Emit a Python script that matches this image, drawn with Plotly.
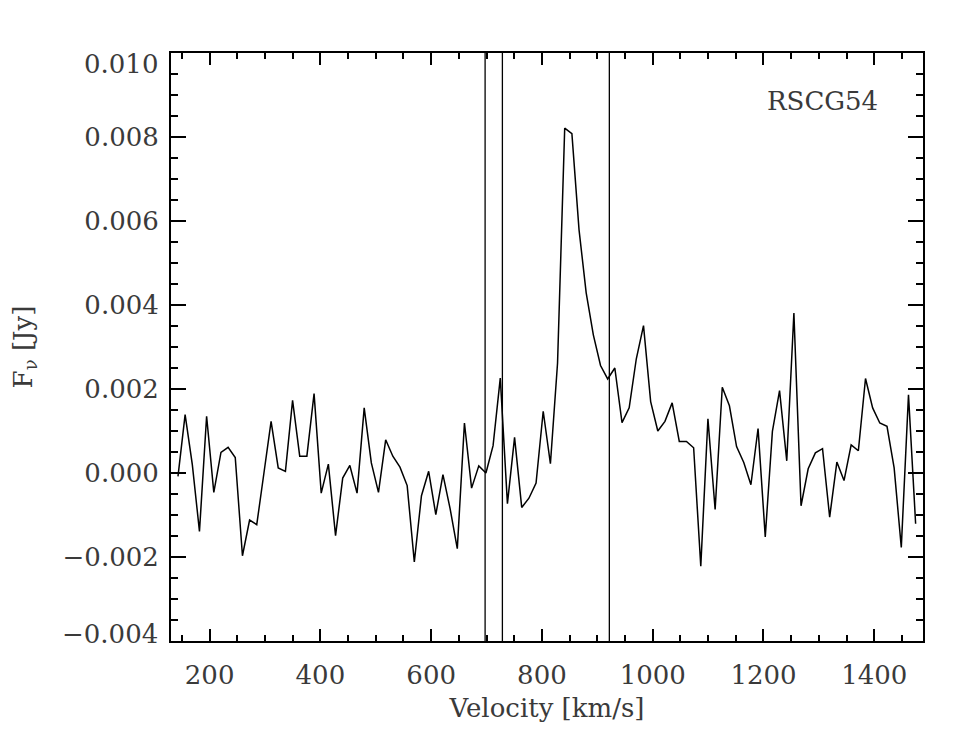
import plotly.graph_objects as go

velocity = [142.9, 155.8, 168.8, 181.7, 194.6, 207.6, 220.5, 233.4, 246.3, 259.3,
            272.2, 285.1, 298.1, 311.0, 323.9, 336.9, 349.8, 362.7, 375.6, 388.6,
            401.5, 414.4, 427.4, 440.3, 453.2, 466.2, 479.1, 492.0, 504.9, 517.9,
            530.8, 543.7, 556.7, 569.6, 582.5, 595.5, 608.4, 621.3, 634.2, 647.2,
            660.1, 673.0, 686.0, 698.9, 711.8, 724.8, 737.7, 750.6, 763.5, 776.5,
            789.4, 802.3, 815.3, 828.2, 841.1, 854.1, 867.0, 879.9, 892.8, 905.8,
            918.7, 931.6, 944.6, 957.5, 970.4, 983.4, 996.3, 1009.2, 1022.1, 1035.1,
            1048.0, 1060.9, 1073.9, 1086.8, 1099.7, 1112.7, 1125.6, 1138.5, 1151.4, 1164.4,
            1177.3, 1190.2, 1203.2, 1216.1, 1229.0, 1242.0, 1254.9, 1267.8, 1280.7, 1293.7,
            1306.6, 1319.5, 1332.5, 1345.4, 1358.3, 1371.3, 1384.2, 1397.1, 1410.0, 1423.0,
            1435.9, 1448.8, 1461.8, 1474.7]

flux = [-0.00008, 0.00139, 0.00020, -0.00139, 0.00135, -0.00046, 0.00049, 0.00061, 0.00037, -0.00197,
        -0.00112, -0.00123, 0.00000, 0.00123, 0.00012, 0.00004, 0.00173, 0.00040, 0.00040, 0.00189,
        -0.00048, 0.00021, -0.00149, -0.00012, 0.00018, -0.00048, 0.00155, 0.00024, -0.00046, 0.00079,
        0.00040, 0.00014, -0.00030, -0.00212, -0.00054, 0.00004, -0.00099, -0.00004, -0.00085, -0.00180,
        0.00119, -0.00036, 0.00017, 0.00000, 0.00065, 0.00226, -0.00073, 0.00085, -0.00082, -0.00060,
        -0.00024, 0.00147, 0.00022, 0.00262, 0.00821, 0.00808, 0.00579, 0.00429, 0.00329, 0.00256,
        0.00224, 0.00250, 0.00120, 0.00155, 0.00272, 0.00351, 0.00170, 0.00100, 0.00123, 0.00167,
        0.00075, 0.00075, 0.00060, -0.00222, 0.00129, -0.00087, 0.00204, 0.00160, 0.00063, 0.00025,
        -0.00028, 0.00106, -0.00152, 0.00099, 0.00196, 0.00029, 0.00381, -0.00078, 0.00010, 0.00048,
        0.00058, -0.00105, 0.00026, -0.00018, 0.00067, 0.00053, 0.00225, 0.00155, 0.00119, 0.00111,
        0.00012, -0.00177, 0.00186, -0.00121]

vlines = [697.4, 728.6, 921.7]
x_range = [130.3, 1488.0]
y_range = [-0.004, 0.010]
x_ticks = [200, 400, 600, 800, 1000, 1200, 1400]
y_ticks = [-0.004, -0.002, 0.000, 0.002, 0.004, 0.006, 0.008, 0.010]
y_ticklabels = ["\u22120.004", "\u22120.002", "0.000", "0.002", "0.004", "0.006", "0.008", "0.010"]
label = "RSCG54"

FONT = "DejaVu Serif"
TXT = "#3a3a3a"

fig = go.Figure()
fig.add_trace(go.Scatter(x=velocity, y=flux, mode="lines",
                         line=dict(color="black", width=1.5), showlegend=False))

for v in vlines:
    fig.add_shape(type="line", xref="x", yref="paper", x0=v, x1=v, y0=0, y1=1,
                  line=dict(color="black", width=1.3))

fig.add_annotation(text=label, xref="paper", yref="paper", x=0.8667, y=0.9188,
                   showarrow=False, xanchor="center", yanchor="middle",
                   font=dict(family=FONT, size=26, color=TXT))

# the end tick labels sit slightly inside the axis range in the reference
for val, txt, shift in [(y_ticks[0], y_ticklabels[0], 7), (y_ticks[-1], y_ticklabels[-1], -11)]:
    fig.add_annotation(text=txt, xref="paper", yref="y", x=0, y=val,
                       xanchor="right", yanchor="middle", xshift=-12, yshift=shift,
                       showarrow=False, borderpad=0,
                       font=dict(family=FONT, size=26, color=TXT))

# page body has an 8px default margin, so the figure is shrunk and shifted accordingly
fig.update_layout(
    width=967, height=742,
    margin=dict(l=163, r=52, t=45, b=109),
    paper_bgcolor="white", plot_bgcolor="white",
    font=dict(family=FONT, size=26, color=TXT),
)
fig.update_xaxes(
    range=x_range, tickvals=x_ticks, ticktext=[str(t) for t in x_ticks],
    showline=True, linecolor="black", linewidth=2, mirror="allticks",
    ticks="inside", ticklen=12, tickwidth=2, tickcolor="black",
    minor=dict(ticks="inside", ticklen=6, tickwidth=2, dtick=50, tick0=0, tickcolor="black"),
    showgrid=False, zeroline=False, ticklabelstandoff=10,
    title=dict(text="Velocity [km/s]", standoff=10, font=dict(family=FONT, size=26, color=TXT)),
    automargin=False,
)
fig.update_yaxes(
    range=y_range, tickvals=y_ticks[1:-1], ticktext=y_ticklabels[1:-1],
    showline=True, linecolor="black", linewidth=2, mirror="allticks",
    ticks="inside", ticklen=15, tickwidth=2, tickcolor="black",
    minor=dict(ticks="inside", ticklen=7, tickwidth=2, dtick=0.0005, tick0=0, tickcolor="black"),
    showgrid=False, zeroline=False, ticklabelstandoff=5,
    title=dict(text="F<sub>ν</sub> [Jy]", standoff=31, font=dict(family=FONT, size=26, color=TXT)),
    automargin=False,
)

fig.write_html("out.html")
